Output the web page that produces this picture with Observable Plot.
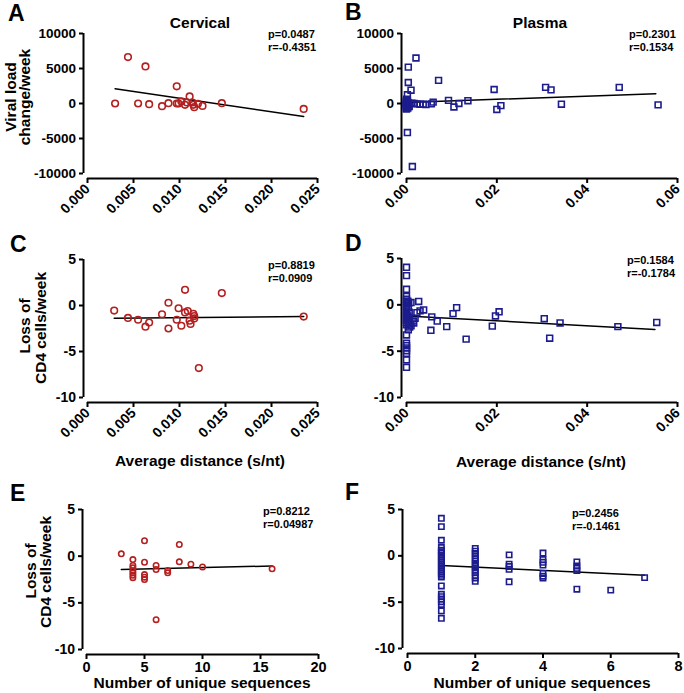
<!DOCTYPE html>
<html><head><meta charset="utf-8">
<script src="https://cdn.jsdelivr.net/npm/d3@7"></script>
<script src="https://cdn.jsdelivr.net/npm/@observablehq/plot@0.6"></script>
<style>
body{margin:0;background:#fff;}
#fig{position:relative;width:684px;height:693px;overflow:hidden;font-family:"Liberation Sans",Arial,sans-serif;font-weight:bold;background:#fff;}
.pan{position:absolute;}
#ann{position:absolute;left:0;top:0;pointer-events:none;}
</style></head><body><div id="fig"></div>
<script>
// ---------- DATA ----------
// Panel A: cervical distance vs viral load change/week
const distA = [0.0030,0.0044,0.0055,0.0063,0.0067,0.0081,0.0088,0.0097,0.0097,0.0099,0.0102,0.0106,0.0108,0.0111,0.0114,0.0115,0.0116,0.0120,0.0125,0.0146,0.0235];
const vlA   = [0,6630,0,5290,-100,-380,50,2450,0,0,290,-190,140,1010,140,-190,-530,-50,-340,50,-770];
const fitAx = [0.0030,0.0235], fitAy = [2100,-1850];
// Panel B: plasma distance vs viral load change/week
const distB = [0,0,0,0,0,0,0,0,0,0,0,0,0,0,0.0002,0.0003,0.0005,0.0004,0.0006,0.0003,0.0005,0.0002,
  0.0002,0.0013,0.0004,0.0004,0.0021,0.0010,0.0002,
  0.0012,0.0017,0.0023,0.0030,0.0037,0.0043,0.0055,0.0059,
  0.0071,0.0093,0.0105,0.0116,0.0136,0.0194,0.0200,0.0209,0.0308,0.0320,0.0343,0.0471,0.0557];
const vlB = [600,450,300,200,100,0,-100,-200,-300,-400,-500,-600,-700,-800,350,150,-50,-250,-450,-650,50,-150,
  -4150,-9000,3000,5200,6500,1900,1250,
  50,0,-50,-100,-100,-150,-50,200,
  3300,450,-500,0,400,2000,-850,-300,2300,1950,-100,2300,-200];
const fitBx = [0.0000,0.0552], fitBy = [150,1400];
// Panel C: cervical distance vs CD4 loss/week
const distC = [0.0029,0.0044,0.0055,0.0063,0.0067,0.0081,0.0088,0.0088,0.0097,0.0099,0.0102,0.0106,0.0106,0.0109,0.0111,0.0112,0.0115,0.0116,0.0116,0.0121,0.0146,0.0235];
const cd4C  = [-0.55,-1.35,-1.55,-2.3,-1.85,-0.95,0.3,-2.5,-1.55,-0.3,-2.2,1.7,-0.75,-0.6,-1.65,-2.0,-0.9,-1.15,-1.4,-6.8,1.35,-1.2];
const fitCx = [0.0029,0.0235], fitCy = [-1.39,-1.2];
// Panel D: plasma distance vs CD4 loss/week
const distD = [0,0,0,0,0,0,0,0,0,0,0,0,0,0,0,0,0,0,0,0,0,0,0,0,
  0.0003,0.0005,0.0004,0.0006,0.0003,0.0005,0.0004,0.0007,0.0004,
  0.0010,0.0027,0.0030,0.0038,0.0023,0.0019,0.0015,0.0016,0.0010,0.0054,0.0056,0.0068,0.0089,0.0103,0.0111,0.0132,0.0190,0.0197,0.0205,0.0305,0.0317,0.0340,0.0468,0.0554];
const cd4D = [4.05,3.15,1.68,0.9,0.6,0.35,0.1,-0.15,-0.4,-0.65,-0.9,-1.15,-1.4,-1.65,-1.9,-2.15,-3.25,-4.15,-4.4,-4.65,-4.95,-5.25,-5.95,-6.75,
  0.4,0.2,-0.3,-0.8,-1.2,-1.6,-2.0,-2.4,-2.7,
  0.25,0.36,-0.65,-0.55,-0.84,-1.45,-1.75,-1.95,-2.25,-2.75,-1.3,-1.75,-2.35,-0.95,-0.3,-3.7,-2.3,-1.2,-0.75,-1.5,-3.6,-1.95,-2.35,-1.9];
const fitDx = [0.0000,0.0550], fitDy = [-1.2,-2.65];
// Panel E: cervical unique sequences vs CD4 loss/week
const uniqE = [3,4,4,4,4,4,4,4,5,5,5,5,5,6,6,6,7,7,8,8,9,10,16];
const cd4E  = [0.25,-0.36,-1.0,-1.25,-1.55,-1.8,-2.05,-2.3,1.65,-0.65,-1.97,-2.25,-2.5,-1.0,-1.43,-6.8,-1.54,-1.79,1.25,-0.61,-0.86,-1.15,-1.36];
const fitEx = [3,16], fitEy = [-1.42,-1.05];
// Panel F: plasma unique sequences vs CD4 loss/week
const uniqF = [1,1,1,1,1,1,1,1,1,1,1,1,1,1,1,1,1,1,1,1,1,1,1,1,1,1,1,1,
  2,2,2,2,2,2,2,2,2,2,2,2,2,2, 3,3,3,3,3, 4,4,4,4,4,4,4, 5,5,5,5,5, 6, 7];
const cd4F = [4.05,3.15,1.68,0.9,0.6,0.45,0.3,0.1,-0.1,-0.3,-0.5,-0.7,-0.9,-1.1,-1.3,-1.5,-1.7,-1.9,-2.1,-2.3,-3.25,-4.15,-4.4,-4.65,-4.95,-5.25,-5.95,-6.75,
  0.8,0.5,0.25,0.0,-0.3,-0.55,-0.8,-1.05,-1.3,-1.55,-1.8,-2.1,-2.4,-2.75,
  0.1,-0.9,-1.15,-1.45,-2.8,
  0.3,-0.4,-0.7,-1.0,-1.9,-2.2,-2.4,
  -0.65,-1.1,-1.35,-1.6,-3.6,
  -3.7, -2.35];
const fitFx = [1,7], fitFy = [-1.05,-2.1];
// Tick labels
const vlTicks = [-10000,-5000,0,5000,10000];
const cd4Ticks = [-10,-5,0,5];
const cervDistTicks = [0,0.005,0.010,0.015,0.020,0.025];
const plasDistTicks = [0,0.02,0.04,0.06];
const uniqETicks = [0,5,10,15,20];
const uniqFTicks = [0,2,4,6,8];
const stats = {A:["p=0.0487","r=-0.4351"],B:["p=0.2301","r=0.1534"],C:["p=0.8819","r=0.0909"],D:["p=0.1584","r=-0.1784"],E:["p=0.8212","r=0.04987"],F:["p=0.2456","r=-0.1461"]};

// ---------- DRAW ----------
const RED = "#b3201f", BLUE = "#1c1c8e";
const FONT = "'Liberation Sans', Arial, sans-serif";
const fig = document.getElementById("fig");

function panel(c) {
  const pts = c.xs.map((x, i) => ({x, y: c.ys[i]}));
  const fit = c.fx.map((x, i) => ({x, y: c.fy[i]}));
  const xd = [c.xt[0], c.xt[c.xt.length - 1]];
  const yd = [c.yt[0], c.yt[c.yt.length - 1]];
  const svg = Plot.plot({
    width: c.w, height: c.h,
    marginLeft: c.ml, marginRight: c.mr, marginTop: c.mt, marginBottom: c.mb,
    x: {domain: xd}, y: {domain: yd},
    style: {fontFamily: FONT, fontWeight: "bold", color: "#000", background: "transparent", overflow: "visible"},
    marks: [
      Plot.ruleX([{x: xd[0], y1: yd[0], y2: yd[1]}], {x: "x", y1: "y1", y2: "y2", dx: c.ax, stroke: "#000", strokeWidth: 2}),
      Plot.ruleY([{y: yd[0], x1: xd[0], x2: xd[1]}], {y: "y", x1: "x1", x2: "x2", dy: 5, stroke: "#000", strokeWidth: 2}),
      Plot.axisY({ticks: c.yt, tickFormat: d => String(d), tickSize: 4, tickPadding: 3.5, dx: c.ax, strokeWidth: 2, label: null}),
      Plot.axisX({ticks: c.xt, tickFormat: c.xf, tickSize: 5, tickPadding: c.rot ? 3 : 2, dy: 5, strokeWidth: 2, tickRotate: c.rot, label: null}),
      Plot.line(fit, {x: "x", y: "y", stroke: "#000", strokeWidth: 1.5}),
      Plot.dot(pts, {x: "x", y: "y", symbol: c.sym, r: c.r, stroke: c.color, strokeWidth: 1.6, fill: "none"})
    ]
  });
  d3.select(svg).selectAll("text").each(function() {
    let n = this, isY = false;
    while (n && n !== svg) { const a = n.getAttribute && n.getAttribute("aria-label"); if (a && /^y-axis/.test(a)) { isY = true; break; } n = n.parentNode; }
    this.style.setProperty("font-size", (isY ? c.yfs : c.xfs) + "px", "important");
    this.style.setProperty("font-weight", "bold", "important");
    this.style.setProperty("font-family", FONT, "important");
  });
  const d = document.createElement("div");
  d.className = "pan";
  d.style.left = c.left + "px"; d.style.top = c.top + "px";
  d.style.width = c.w + "px"; d.style.height = c.h + "px";
  d.appendChild(svg);
  fig.appendChild(d);
}

const f3 = d3.format(".3f"), f2 = d3.format(".2f"), fi = d => String(d);
panel({left:0, top:0, w:340, h:230, ml:87, mr:23, mt:33, mb:57, ax:-4, xs:distA, ys:vlA, fx:fitAx, fy:fitAy, xt:cervDistTicks, yt:vlTicks, xf:f3, rot:-45, sym:"circle", r:3.3, color:RED, xfs:14, yfs:13.5});
panel({left:340, top:0, w:344, h:230, ml:66, mr:7, mt:33, mb:57, ax:-5, xs:distB, ys:vlB, fx:fitBx, fy:fitBy, xt:plasDistTicks, yt:vlTicks, xf:f2, rot:-45, sym:"square", r:3.3, color:BLUE, xfs:14, yfs:13.5});
panel({left:0, top:230, w:340, h:240, ml:87, mr:23, mt:29, mb:73, ax:-4, xs:distC, ys:cd4C, fx:fitCx, fy:fitCy, xt:cervDistTicks, yt:cd4Ticks, xf:f3, rot:-45, sym:"circle", r:3.3, color:RED, xfs:14, yfs:14});
panel({left:340, top:230, w:344, h:240, ml:66, mr:7, mt:28, mb:73, ax:-5, xs:distD, ys:cd4D, fx:fitDx, fy:fitDy, xt:plasDistTicks, yt:cd4Ticks, xf:f2, rot:-45, sym:"square", r:3.3, color:BLUE, xfs:14, yfs:14});
panel({left:0, top:470, w:340, h:223, ml:86, mr:22, mt:39, mb:44, ax:-4, xs:uniqE, ys:cd4E, fx:fitEx, fy:fitEy, xt:uniqETicks, yt:cd4Ticks, xf:fi, rot:0, sym:"circle", r:2.7, color:RED, xfs:14.5, yfs:14});
panel({left:340, top:470, w:344, h:223, ml:67, mr:6, mt:39, mb:45, ax:-5, xs:uniqF, ys:cd4F, fx:fitFx, fy:fitFy, xt:uniqFTicks, yt:cd4Ticks, xf:fi, rot:0, sym:"square", r:3.0, color:BLUE, xfs:14.5, yfs:14});

// ---------- ANNOTATIONS ----------
const ann = d3.select(fig).append("svg").attr("id","ann").attr("width",684).attr("height",693)
  .style("font-family", FONT).style("font-weight","bold");
const letters = [["A",8,21],["B",345,20],["C",10,252],["D",345,251],["E",10,501],["F",345,500]];
letters.forEach(([t,x,y]) => ann.append("text").attr("x",x).attr("y",y).attr("font-size",23).text(t));
[["Cervical",200,28],["Plasma",540,28]].forEach(([t,x,y]) => ann.append("text").attr("x",x).attr("y",y).attr("font-size",15.5).attr("text-anchor","middle").text(t));
const statPos = {A:[268,38],B:[629,38],C:[268,269],D:[627,264],E:[263,515],F:[572,517]};
Object.entries(statPos).forEach(([k,[x,y]]) => {
  ann.append("text").attr("x",x).attr("y",y).attr("font-size",11).text(stats[k][0]);
  ann.append("text").attr("x",x).attr("y",y+13).attr("font-size",11).text(stats[k][1]);
});
const ylabs = [["Viral load",15.5,97],["change/week",29.5,97],["Loss of",30,326],["CD4 cells/week",45.5,328],["Loss of",36,571],["CD4 cells/week",51,572]];
ylabs.forEach(([t,x,y]) => ann.append("text").attr("transform",`translate(${x},${y}) rotate(-90)`).attr("font-size",15.5).attr("text-anchor","middle").text(t));
const xlabs = [["Average distance (s/nt)",200,466],["Average distance (s/nt)",541,467],["Number of unique sequences",202,688],["Number of unique sequences",542,688]];
xlabs.forEach(([t,x,y]) => ann.append("text").attr("x",x).attr("y",y).attr("font-size",15.5).attr("text-anchor","middle").text(t));
</script></body></html>
